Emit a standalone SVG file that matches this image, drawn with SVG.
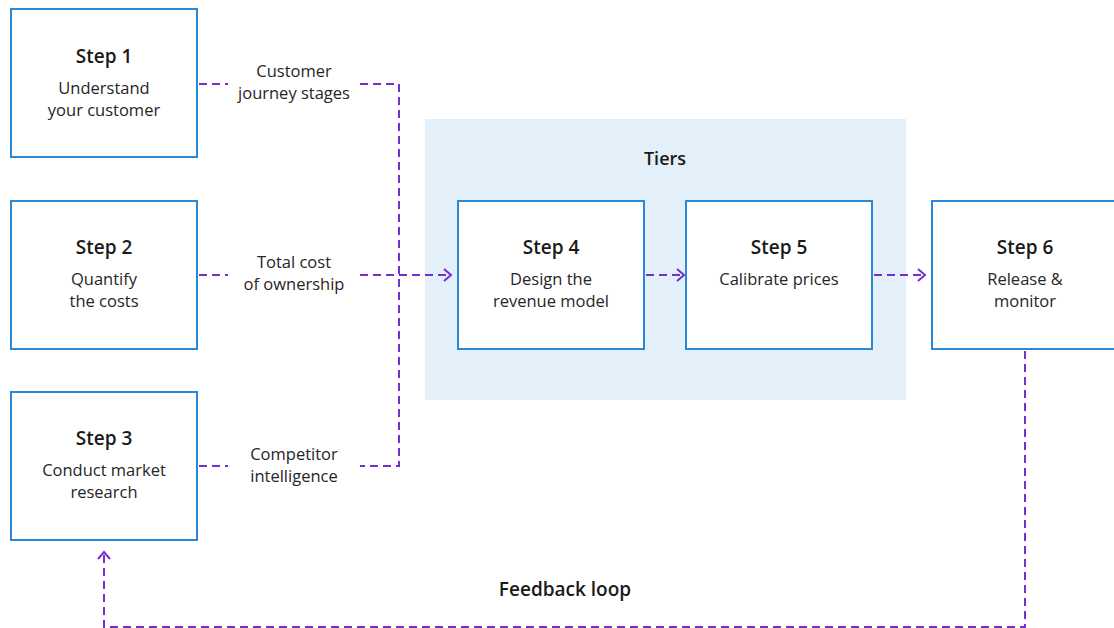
<svg xmlns="http://www.w3.org/2000/svg" width="1114" height="628" viewBox="0 0 1114 628">
  <style>
    .box { fill: #ffffff; stroke: #2b88d8; stroke-width: 2; }
    .panel { fill: #e3eff9; }
    .title { font-family: "Open Sans", "Noto Sans", sans-serif; font-weight: 600; font-size: 19px; fill: #1a1a1a; text-anchor: middle; }
    .sub { font-family: "Open Sans", "Noto Sans", sans-serif; font-size: 16.5px; fill: #262626; text-anchor: middle; }
    .lbl { font-family: "Open Sans", "Noto Sans", sans-serif; font-size: 16.5px; fill: #262626; text-anchor: middle; }
    .link { fill: none; stroke: #7330d0; stroke-width: 2; stroke-dasharray: 8 5; }
  </style>
  <defs>
    <marker id="chev" viewBox="0 0 12 14" refX="10" refY="7" markerWidth="12" markerHeight="14" markerUnits="userSpaceOnUse" orient="auto">
      <path d="M3,1 L10,7 L3,13" fill="none" stroke="#7330d0" stroke-width="2"/>
    </marker>
  </defs>

  <rect width="1114" height="628" fill="#ffffff"/>

  <!-- Tiers panel -->
  <g id="tiers">
    <rect class="panel" x="425" y="119" width="481" height="281"/>
    <text class="title" x="665" y="165" style="font-size:18px">Tiers</text>
  </g>

  <!-- connectors -->
  <g id="connectors">
    <path class="link" d="M199,84 H228"/>
    <path class="link" d="M360,84 H399 V466 H360"/>
    <path class="link" d="M199,466 H228"/>
    <path class="link" d="M199,275 H228"/>
    <path class="link" d="M360,275 H451" marker-end="url(#chev)"/>
    <path class="link" d="M646,275 H684" marker-end="url(#chev)"/>
    <path class="link" d="M874,275 H925" marker-end="url(#chev)"/>
    <path class="link" d="M1025,351 V627 H104 V552" marker-end="url(#chev)"/>
  </g>

  <g id="step1">
    <rect class="box" x="11" y="9" width="186" height="148"/>
    <text class="title" x="104" y="63">Step 1</text>
    <text class="sub" x="104" y="94">Understand</text>
    <text class="sub" x="104" y="116">your customer</text>
  </g>
  <g id="step2">
    <rect class="box" x="11" y="201" width="186" height="148"/>
    <text class="title" x="104" y="254">Step 2</text>
    <text class="sub" x="104" y="285">Quantify</text>
    <text class="sub" x="104" y="307">the costs</text>
  </g>
  <g id="step3">
    <rect class="box" x="11" y="392" width="186" height="148"/>
    <text class="title" x="104" y="445">Step 3</text>
    <text class="sub" x="104" y="476">Conduct market</text>
    <text class="sub" x="104" y="498">research</text>
  </g>
  <g id="step4">
    <rect class="box" x="458" y="201" width="186" height="148"/>
    <text class="title" x="551" y="254">Step 4</text>
    <text class="sub" x="551" y="285">Design the</text>
    <text class="sub" x="551" y="307">revenue model</text>
  </g>
  <g id="step5">
    <rect class="box" x="686" y="201" width="186" height="148"/>
    <text class="title" x="779" y="254">Step 5</text>
    <text class="sub" x="779" y="285">Calibrate prices</text>
  </g>
  <g id="step6">
    <rect class="box" x="932" y="201" width="190" height="148"/>
    <text class="title" x="1025" y="254">Step 6</text>
    <text class="sub" x="1025" y="285">Release &amp;</text>
    <text class="sub" x="1025" y="307">monitor</text>
  </g>

  <g id="labels">
    <text class="lbl" x="294" y="77">Customer</text>
    <text class="lbl" x="294" y="99">journey stages</text>
    <text class="lbl" x="294" y="268">Total cost</text>
    <text class="lbl" x="294" y="290">of ownership</text>
    <text class="lbl" x="294" y="460">Competitor</text>
    <text class="lbl" x="294" y="482">intelligence</text>
    <text class="title" x="565" y="596">Feedback loop</text>
  </g>
</svg>
